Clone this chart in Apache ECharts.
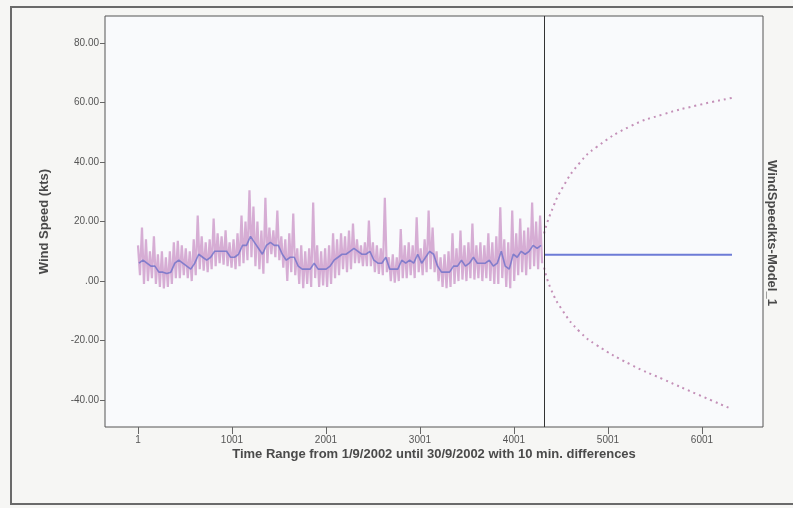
<!DOCTYPE html>
<html>
<head>
<meta charset="utf-8">
<script src="https://cdn.jsdelivr.net/npm/echarts@6/dist/echarts.min.js"></script>
<style>
  html, body { margin: 0; padding: 0; background: #f6f6f4; }
  #chart { width: 793px; height: 508px; }
</style>
</head>
<body>
<div id="chart"></div>
<script>
// observed wind speed, read per ~42-sample window: highest and lowest value in each
var peakValues = [12, 18, 14, 10, 15, 9, 10, 8, 10, 13, 13.5, 12, 11, 10, 14, 22, 15, 13, 14, 21,
  16, 15, 17, 13, 14, 16, 22, 20, 30.5, 25, 20, 17, 28, 18, 17, 23.7, 15, 14, 16, 22.7,
  11, 12, 10, 11, 26.4, 12, 10, 11, 12, 16, 14, 16, 15, 17, 19.3, 14, 12, 13, 20.3, 13,
  12, 11, 28, 8, 9, 8, 17.5, 12, 13, 12, 21.4, 11, 14, 23.7, 18, 10, 8, 9, 10, 16,
  11, 17, 12, 13, 19.3, 12, 13, 12, 16, 13, 15, 24.8, 14, 13, 23.7, 16, 21, 17, 18, 26.4,
  20, 22];
var troughValues = [2, -1, 0, 1, -1, -2, -2.5, -2, -1, 1, 1, 2, 1, 0, 2, 4, 3.5, 3, 4, 5,
  6, 5.5, 5, 4.5, 4, 5, 6, 7, 8, 5, 4, 2.5, 6, 9, 8, 7, 4.5, 0, 3, 2,
  -1, -2.4, -1, -2, 1, -2, -1.5, -2, -1, 1, 2, 4, 3, 4, 6, 6, 5, 5, 5, 3,
  2.4, 2, 3, 0, -0.5, 0, 1, 1, 2, 1, 3, 2, 3, 4, 3, 0, -2, -2.4, -2, -1,
  0, 0.5, 0, 1, 0.5, 1, 0, 1, 0, -1, -1, 1, -2, -2.4, 0, 2, 3, 2, 4, 5,
  4, 6];
// model fit over the same windows
var fitValues = [6, 7, 6, 5, 5, 3, 3, 2.5, 3, 6, 7, 6, 5, 4, 6, 9, 8, 7, 8, 10,
  10, 10, 10, 8, 8, 9, 12, 12, 15, 13, 11, 9, 12, 13, 12, 12, 9, 7, 8, 8,
  5, 4, 4, 4, 6, 4, 4, 4, 5, 7, 8, 9, 9, 10, 11, 10, 9, 9, 10, 7,
  6, 6, 8, 4, 4, 4, 7, 6, 7, 6, 9, 6, 8, 10, 9, 5, 3, 3, 3, 5,
  5, 7, 5, 6, 8, 6, 6, 6, 7, 5, 6, 10, 5, 4, 9, 8, 10, 9, 10, 12,
  11, 12];

// forecast part
var forecastSteps = [4321, 4390, 4520, 4700, 4880, 5240, 5590, 5950, 6320];
var forecastValues = [8.8, 8.8, 8.8, 8.8, 8.8, 8.8, 8.8, 8.8, 8.8];
var upperValues = [16, 22.7, 31.5, 39.7, 45, 52, 56, 59, 61.5];
var lowerValues = [4.5, -2.4, -10, -17, -21.5, -28, -33, -38, -43];

var xTicks = [1, 1001, 2001, 3001, 4001, 5001, 6001];
var yTicks = [-40, -20, 0, 20, 40, 60, 80];
var historyEnd = 4320;

var windowSize = historyEnd / peakValues.length;
var observed = [];
var fitted = [];
for (var i = 0; i < peakValues.length; i++) {
  observed.push([1 + i * windowSize, peakValues[i]]);
  observed.push([1 + (i + 0.5) * windowSize, troughValues[i]]);
  fitted.push([1 + (i + 0.25) * windowSize, fitValues[i]]);
}
function pairs(xs, ys) {
  return xs.map(function (x, i) { return [x, ys[i]]; });
}

var chart = echarts.init(document.getElementById('chart'));
chart.setOption({
  animation: false,
  backgroundColor: '#f6f6f4',
  grid: {
    left: 105, top: 16, right: 30, bottom: 81,
    show: true,
    backgroundColor: '#f9fafc',
    borderColor: '#555',
    borderWidth: 1
  },
  xAxis: {
    type: 'value',
    min: -350,
    max: 6650,
    name: 'Time Range from 1/9/2002 until 30/9/2002 with 10 min. differences',
    nameLocation: 'middle',
    nameGap: 21,
    nameMoveOverlap: false,
    nameTextStyle: { fontFamily: 'Liberation Sans', fontWeight: 'bold', fontSize: 13, color: '#4a4a4a' },
    axisLine: { show: false, onZero: false },
    splitLine: { show: false },
    axisTick: { show: true, customValues: xTicks, length: 7, lineStyle: { color: '#666' } },
    axisLabel: {
      customValues: xTicks,
      fontFamily: 'Liberation Sans Narrow, Liberation Sans',
      fontSize: 10,
      color: '#555',
      margin: 8,
      formatter: function (v) { return String(v); }
    }
  },
  yAxis: {
    type: 'value',
    min: -49,
    max: 89,
    name: 'Wind Speed (kts)',
    nameLocation: 'middle',
    nameGap: 54,
    nameTextStyle: { fontFamily: 'Liberation Sans', fontWeight: 'bold', fontSize: 13, color: '#4a4a4a' },
    axisLine: { show: false, onZero: false },
    splitLine: { show: false },
    axisTick: { show: true, customValues: yTicks, length: 5, lineStyle: { color: '#666' } },
    axisLabel: {
      customValues: yTicks,
      fontFamily: 'Liberation Sans Narrow, Liberation Sans',
      fontSize: 10,
      color: '#555',
      margin: 6,
      formatter: function (v) { return v === 0 ? '.00' : v.toFixed(2); }
    }
  },
  series: [
    {
      name: 'Observed',
      type: 'line',
      data: observed,
      showSymbol: false,
      lineStyle: { color: '#d2a4cf', width: 2.2, opacity: 0.9 },
      markLine: {
        silent: true,
        symbol: 'none',
        label: { show: false },
        lineStyle: { color: '#333', width: 1, type: 'solid' },
        data: [{ xAxis: historyEnd }]
      }
    },
    {
      name: 'Fit',
      type: 'line',
      data: fitted,
      showSymbol: false,
      lineStyle: { color: '#5f68c8', width: 1.6, opacity: 0.7 }
    },
    {
      name: 'Forecast',
      type: 'line',
      data: pairs(forecastSteps, forecastValues),
      showSymbol: false,
      lineStyle: { color: '#6d7bd6', width: 2 }
    },
    {
      name: 'UCL',
      type: 'line',
      smooth: true,
      data: pairs(forecastSteps, upperValues),
      showSymbol: false,
      lineStyle: { color: '#c490b8', width: 2, type: [2, 4] }
    },
    {
      name: 'LCL',
      type: 'line',
      smooth: true,
      data: pairs(forecastSteps, lowerValues),
      showSymbol: false,
      lineStyle: { color: '#c490b8', width: 2, type: [2, 4] }
    }
  ],
  graphic: [
    {
      type: 'rect',
      shape: { x: 11, y: 7, width: 800, height: 497 },
      style: { fill: null, stroke: '#6a6a6a', lineWidth: 2 },
      silent: true
    },
    {
      type: 'text',
      x: 772,
      y: 233,
      rotation: -Math.PI / 2,
      style: {
        text: 'WindSpeedkts-Model_1',
        fontFamily: 'Liberation Sans',
        fontWeight: 'bold',
        fontSize: 13,
        fill: '#4a4a4a',
        align: 'center',
        verticalAlign: 'middle'
      }
    }
  ]
});
window.addEventListener('resize', chart.resize);
</script>
</body>
</html>
